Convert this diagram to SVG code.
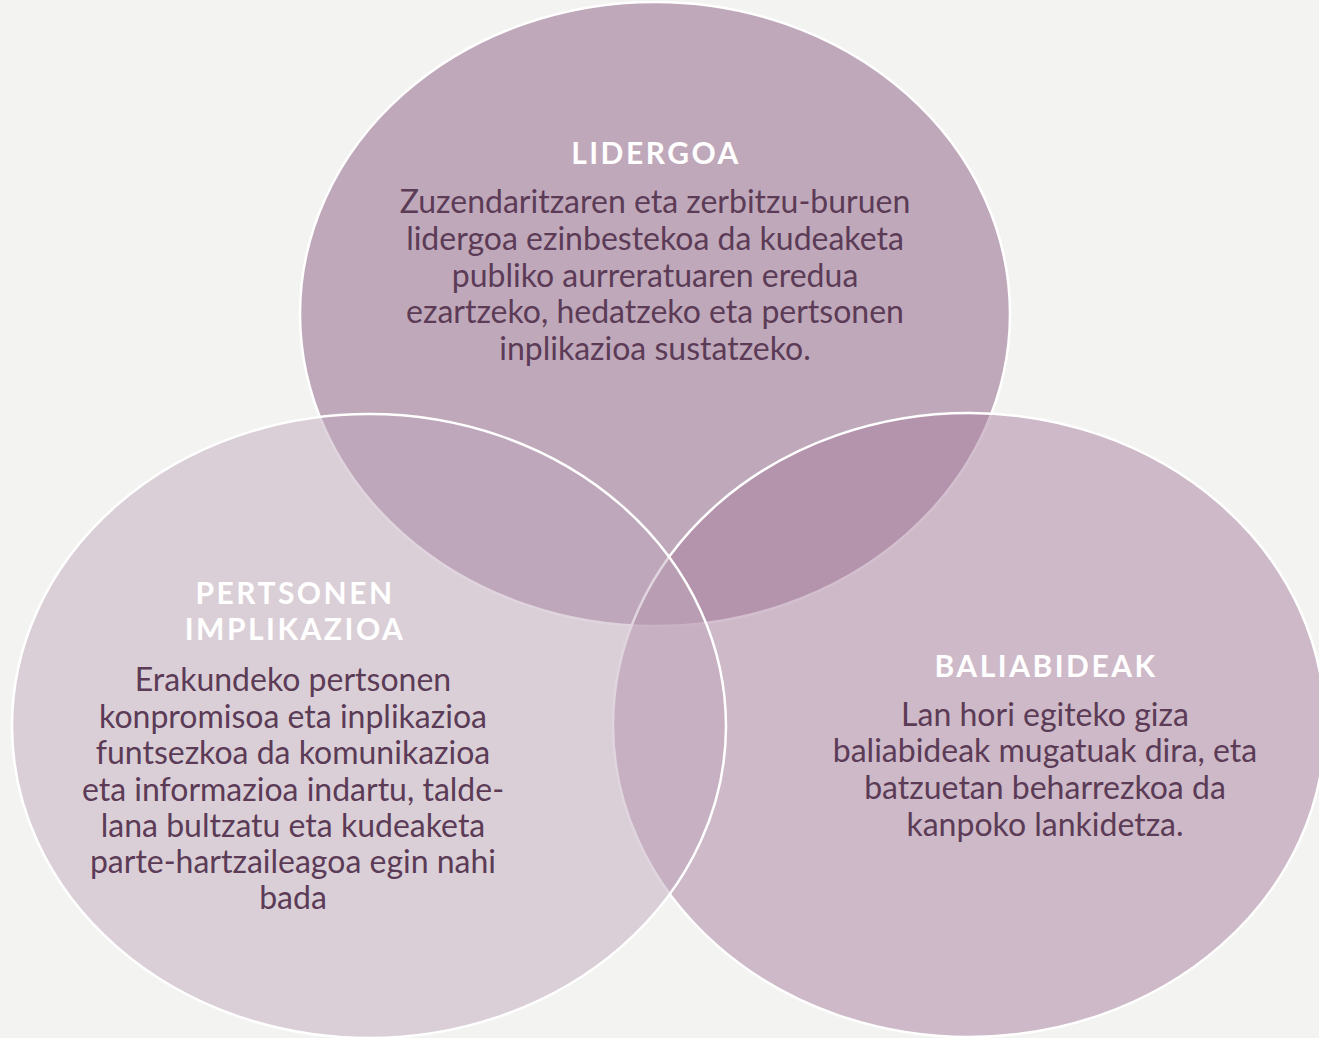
<svg xmlns="http://www.w3.org/2000/svg" width="1319" height="1038" viewBox="0 0 1319 1038">
<style>
.ell{stroke:#ffffff;stroke-width:2.5}
.title{font-family:Lato,"Open Sans","DejaVu Sans",sans-serif;font-weight:bold;font-size:30px;letter-spacing:2.5px;fill:#ffffff;text-anchor:middle}
.body{font-family:Lato,"Open Sans","DejaVu Sans",sans-serif;font-size:32px;fill:#5b3b56;text-anchor:middle}
</style>
<rect width="1319" height="1038" fill="#f3f3f1"/>
<g id="lidergoa">
<ellipse class="ell" cx="655" cy="314" rx="355" ry="312" fill="#bfa8ba"/>
</g>
<g id="baliabideak">
<ellipse class="ell" cx="969" cy="725" rx="356" ry="312" fill="#a8819f" fill-opacity="0.51"/>
</g>
<g id="pertsonen-implikazioa">
<ellipse class="ell" cx="369" cy="726" rx="357" ry="312" fill="#bfa8ba" fill-opacity="0.48"/>
</g>
<g id="connectors"></g>
<g id="lidergoa-text">
<text class="title" x="656" y="164">LIDERGOA</text>
<text class="body" x="655" y="213">Zuzendaritzaren eta zerbitzu-buruen</text>
<text class="body" x="655" y="250">lidergoa ezinbestekoa da kudeaketa</text>
<text class="body" x="655" y="287">publiko aurreratuaren eredua</text>
<text class="body" x="655" y="323">ezartzeko, hedatzeko eta pertsonen</text>
<text class="body" x="655" y="360">inplikazioa sustatzeko.</text>
</g>
<g id="pertsonen-text">
<text class="title" x="295" y="604">PERTSONEN</text>
<text class="title" x="295" y="640">IMPLIKAZIOA</text>
<text class="body" x="293" y="691">Erakundeko pertsonen</text>
<text class="body" x="293" y="728">konpromisoa eta inplikazioa</text>
<text class="body" x="293" y="764">funtsezkoa da komunikazioa</text>
<text class="body" x="293" y="801">eta informazioa indartu, talde-</text>
<text class="body" x="293" y="837">lana bultzatu eta kudeaketa</text>
<text class="body" x="293" y="873">parte-hartzaileagoa egin nahi</text>
<text class="body" x="293" y="909">bada</text>
</g>
<g id="baliabideak-text">
<text class="title" x="1046" y="677">BALIABIDEAK</text>
<text class="body" x="1045" y="726">Lan hori egiteko giza</text>
<text class="body" x="1045" y="762">baliabideak mugatuak dira, eta</text>
<text class="body" x="1045" y="799">batzuetan beharrezkoa da</text>
<text class="body" x="1045" y="836">kanpoko lankidetza.</text>
</g>
</svg>
